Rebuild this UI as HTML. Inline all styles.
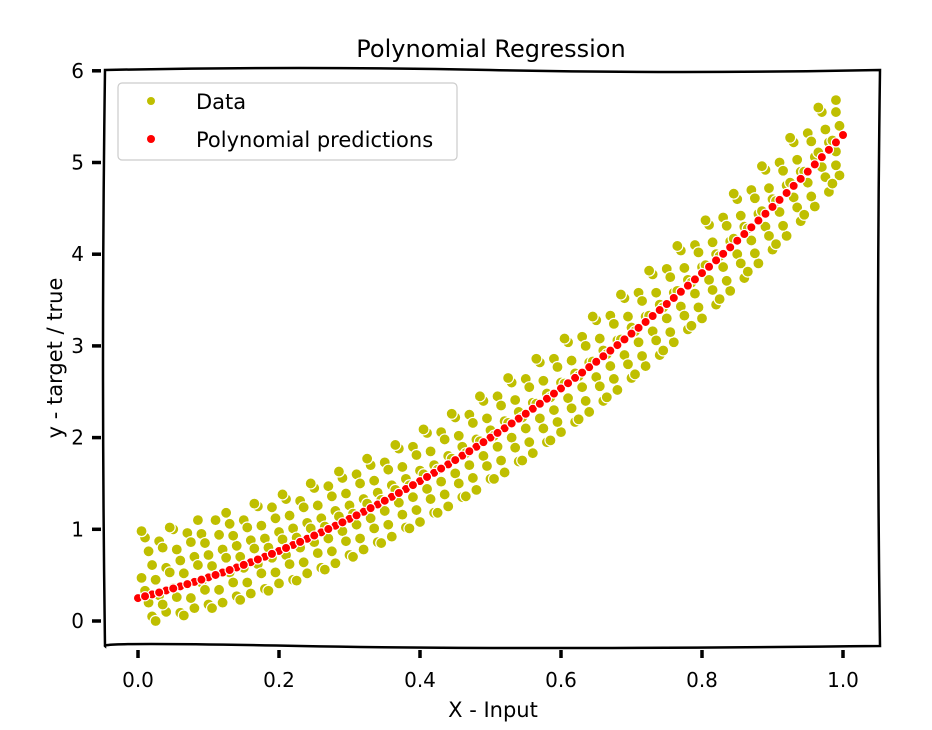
<!DOCTYPE html>
<html><head><meta charset="utf-8"><style>
body{margin:0;background:#fff;}
svg{display:block;font-family:"DejaVu Sans","Liberation Sans",sans-serif;}
</style></head><body>
<svg id="chart" width="932" height="730" viewBox="0 0 932 730">
<text x="491" y="57" text-anchor="middle" font-size="24">Polynomial Regression</text>
<g id="marks"></g>
<path d="M105,70 Q300,66 490,70 T880,70 Q876,360 880,646 Q500,650 300,646 T105,646 Q101,360 105,70 Z" fill="none" stroke="#000" stroke-width="2.5"/>
<g id="axes"></g>
<text x="493" y="717" text-anchor="middle" font-size="21">X - Input</text>
<text transform="translate(62,358) rotate(-90)" text-anchor="middle" font-size="21">y - target / true</text>
<g>
<rect x="118" y="83" width="339" height="77" rx="4" fill="#fff" fill-opacity="0.85" stroke="#ccc" stroke-width="1.2"/>
<circle cx="151" cy="101" r="4" fill="#bfbf00"/>
<text x="196" y="109" font-size="21">Data</text>
<circle cx="151" cy="139" r="4" fill="#ff0000"/>
<text x="196" y="147" font-size="21">Polynomial predictions</text>
</g>
</svg>
<script>
const xTicks=[0.0,0.2,0.4,0.6,0.8,1.0];
const xTickLabels=["0.0","0.2","0.4","0.6","0.8","1.0"];
const yTicks=[0,1,2,3,4,5,6];
const yTickLabels=["0","1","2","3","4","5","6"];
const dataXA=[0.01,0.03,0.05,0.07,0.09,0.11,0.13,0.15,0.17,0.19,0.21,0.23,0.25,0.27,0.29,0.31,0.33,0.35,0.37,0.39,0.41,0.43,0.45,0.47,0.49,0.51,0.53,0.55,0.57,0.59,0.61,0.63,0.65,0.67,0.69,0.71,0.73,0.75,0.77,0.79,0.81,0.83,0.85,0.87,0.89,0.91,0.93,0.95,0.97,0.99];
const dataXB=[0.02,0.04,0.06,0.08,0.10,0.12,0.14,0.16,0.18,0.20,0.22,0.24,0.26,0.28,0.30,0.32,0.34,0.36,0.38,0.40,0.42,0.44,0.46,0.48,0.50,0.52,0.54,0.56,0.58,0.60,0.62,0.64,0.66,0.68,0.70,0.72,0.74,0.76,0.78,0.80,0.82,0.84,0.86,0.88,0.90,0.92,0.94,0.96,0.98,0.995];
const dataXC=[0.015,0.035,0.055,0.075,0.095,0.115,0.135,0.155,0.175,0.195,0.215,0.235,0.255,0.275,0.295,0.315,0.335,0.355,0.375,0.395,0.415,0.435,0.455,0.475,0.495,0.515,0.535,0.555,0.575,0.595,0.615,0.635,0.655,0.675,0.695,0.715,0.735,0.755,0.775,0.795,0.815,0.835,0.855,0.875,0.895,0.915,0.935,0.955,0.975,0.99];
const dataXD=[0.005,0.025,0.045,0.065,0.085,0.105,0.125,0.145,0.165,0.185,0.205,0.225,0.245,0.265,0.285,0.305,0.325,0.345,0.365,0.385,0.405,0.425,0.445,0.465,0.485,0.505,0.525,0.545,0.565,0.585,0.605,0.625,0.645,0.665,0.685,0.705,0.725,0.745,0.765,0.785,0.805,0.825,0.845,0.865,0.885,0.905,0.925,0.945,0.965,0.985];
const dataYA=[0.91,0.87,1.00,0.96,0.95,1.10,1.06,1.10,1.25,1.24,1.33,1.31,1.45,1.47,1.56,1.60,1.70,1.73,1.88,1.90,2.05,2.06,2.22,2.25,2.40,2.45,2.60,2.64,2.82,2.86,3.04,3.10,3.28,3.33,3.52,3.58,3.78,3.84,4.04,4.10,4.32,4.40,4.60,4.70,4.92,5.00,5.22,5.32,5.55,5.68];
const dataYB=[0.61,0.58,0.66,0.70,0.72,0.78,0.82,0.88,0.90,0.97,1.01,1.07,1.12,1.20,1.26,1.33,1.40,1.48,1.55,1.64,1.70,1.80,1.90,1.98,2.08,2.18,2.28,2.38,2.48,2.60,2.70,2.82,2.95,3.06,3.20,3.32,3.45,3.58,3.72,3.86,4.00,4.14,4.30,4.44,4.60,4.75,4.90,5.06,5.22,5.40];
const dataYC=[0.33,0.28,0.36,0.40,0.42,0.50,0.53,0.58,0.62,0.69,0.72,0.80,0.86,0.90,0.98,1.05,1.12,1.20,1.29,1.35,1.44,1.52,1.61,1.70,1.80,1.90,2.00,2.10,2.21,2.30,2.43,2.55,2.66,2.78,2.90,3.04,3.16,3.30,3.43,3.57,3.72,3.86,4.00,4.15,4.30,4.46,4.62,4.78,4.95,5.12];
const dataYD=[0.05,0.10,0.09,0.14,0.18,0.20,0.27,0.30,0.35,0.41,0.45,0.52,0.58,0.63,0.72,0.78,0.86,0.92,1.02,1.08,1.18,1.25,1.35,1.43,1.55,1.62,1.74,1.83,1.95,2.06,2.17,2.28,2.40,2.52,2.65,2.78,2.90,3.04,3.18,3.30,3.45,3.60,3.74,3.90,4.05,4.20,4.36,4.52,4.68,4.86];
const dataYE=[0.76,0.80,0.78,0.86,0.85,0.94,0.93,1.02,1.04,1.12,1.15,1.24,1.26,1.36,1.39,1.50,1.53,1.65,1.68,1.81,1.85,1.98,2.02,2.16,2.21,2.35,2.41,2.55,2.62,2.77,2.84,3.00,3.08,3.24,3.32,3.49,3.58,3.75,3.85,4.02,4.13,4.31,4.42,4.61,4.72,4.91,5.03,5.23,5.36,5.55];
const dataYF=[0.47,0.45,0.53,0.52,0.61,0.60,0.69,0.70,0.79,0.80,0.89,0.91,1.01,1.03,1.14,1.17,1.28,1.32,1.43,1.48,1.60,1.65,1.77,1.83,1.96,2.02,2.16,2.22,2.37,2.44,2.59,2.67,2.83,2.91,3.07,3.16,3.33,3.42,3.60,3.69,3.88,3.98,4.17,4.28,4.47,4.58,4.78,4.90,5.11,5.24];
const dataYG=[0.20,0.18,0.26,0.25,0.34,0.34,0.42,0.42,0.52,0.53,0.62,0.64,0.74,0.76,0.87,0.90,1.01,1.05,1.16,1.21,1.33,1.38,1.50,1.56,1.69,1.75,1.89,1.95,2.10,2.17,2.32,2.40,2.56,2.64,2.80,2.89,3.06,3.15,3.33,3.42,3.61,3.71,3.90,4.01,4.20,4.31,4.51,4.63,4.84,4.97];
const dataYH=[0.98,0.00,1.02,0.06,1.10,0.14,1.18,0.23,1.28,0.33,1.38,0.44,1.50,0.56,1.63,0.70,1.77,0.85,1.92,1.01,2.09,1.18,2.26,1.36,2.45,1.55,2.65,1.75,2.86,1.97,3.08,2.20,3.32,2.44,3.56,2.69,3.82,2.95,4.09,3.22,4.37,3.51,4.66,3.81,4.96,4.11,5.27,4.43,5.60,4.77];
const predX=[0,0.02,0.04,0.06,0.08,0.10,0.12,0.14,0.16,0.18,0.20,0.22,0.24,0.26,0.28,0.30,0.32,0.34,0.36,0.38,0.40,0.42,0.44,0.46,0.48,0.50,0.52,0.54,0.56,0.58,0.60,0.62,0.64,0.66,0.68,0.70,0.72,0.74,0.76,0.78,0.80,0.82,0.84,0.86,0.88,0.90,0.92,0.94,0.96,0.98,1.0];
const predY=[0.25,0.29,0.333,0.378,0.426,0.476,0.529,0.584,0.641,0.701,0.764,0.829,0.897,0.967,1.039,1.114,1.191,1.271,1.354,1.439,1.526,1.616,1.708,1.803,1.900,2.0,2.102,2.207,2.314,2.424,2.536,2.651,2.768,2.887,3.009,3.134,3.261,3.391,3.523,3.657,3.794,3.933,4.075,4.220,4.367,4.516,4.668,4.822,4.979,5.138,5.30];
const predX2=[0.01,0.03,0.05,0.07,0.09,0.11,0.13,0.15,0.17,0.19,0.21,0.23,0.25,0.27,0.29,0.31,0.33,0.35,0.37,0.39,0.41,0.43,0.45,0.47,0.49,0.51,0.53,0.55,0.57,0.59,0.61,0.63,0.65,0.67,0.69,0.71,0.73,0.75,0.77,0.79,0.81,0.83,0.85,0.87,0.89,0.91,0.93,0.95,0.97,0.99];
const predY2=[0.27,0.311,0.355,0.402,0.451,0.502,0.556,0.612,0.671,0.732,0.796,0.863,0.932,1.003,1.076,1.152,1.231,1.312,1.396,1.482,1.571,1.662,1.755,1.851,1.950,2.051,2.154,2.260,2.369,2.480,2.593,2.709,2.827,2.948,3.071,3.197,3.326,3.457,3.590,3.725,3.863,4.004,4.147,4.293,4.441,4.592,4.745,4.900,5.058,5.219];

const NS='http://www.w3.org/2000/svg';
function xs(v){return 138+v*705;}
function ys(v){return 621-v*91.7;}
const marks=document.getElementById('marks');
const axes=document.getElementById('axes');
function dot(x,y,fill,name,r){
  const c=document.createElementNS(NS,'circle');
  c.setAttribute('cx',xs(x));c.setAttribute('cy',ys(y));c.setAttribute('r',r);
  c.setAttribute('fill',fill);c.setAttribute('stroke','#fff');c.setAttribute('stroke-width',1.2);
  
  
  marks.appendChild(c);
}
[[dataXA,dataYA],[dataXB,dataYB],[dataXC,dataYE],[dataXA,dataYC],[dataXD,dataYF],[dataXB,dataYD],[dataXC,dataYG],[dataXD,dataYH]].forEach(p=>{
  p[0].forEach((x,i)=>dot(x,p[1][i],'#bfbf00','data-point',5.5));
});
predX.forEach((x,i)=>dot(x,predY[i],'#ff0000','prediction-point',4.6));
predX2.forEach((x,i)=>dot(x,predY2[i],'#ff0000','prediction-point',4.6));
xTicks.forEach((t,i)=>{
  const l=document.createElementNS(NS,'line');
  l.setAttribute('x1',xs(t));l.setAttribute('x2',xs(t));l.setAttribute('y1',650);l.setAttribute('y2',658);
  l.setAttribute('stroke','#000');l.setAttribute('stroke-width',3.5);
  
  
  axes.appendChild(l);
  const tx=document.createElementNS(NS,'text');
  tx.setAttribute('x',xs(t));tx.setAttribute('y',687);tx.setAttribute('text-anchor','middle');tx.setAttribute('font-size','20');
  tx.textContent=xTickLabels[i];
  
  
  axes.appendChild(tx);
});
yTicks.forEach((t,i)=>{
  const l=document.createElementNS(NS,'line');
  l.setAttribute('x1',92);l.setAttribute('x2',101);l.setAttribute('y1',ys(t));l.setAttribute('y2',ys(t));
  l.setAttribute('stroke','#000');l.setAttribute('stroke-width',3.5);
  
  
  axes.appendChild(l);
  const tx=document.createElementNS(NS,'text');
  tx.setAttribute('x',84);tx.setAttribute('y',ys(t)+7);tx.setAttribute('text-anchor','end');tx.setAttribute('font-size','20');
  tx.textContent=yTickLabels[i];
  
  
  axes.appendChild(tx);
});
</script>
</body></html>
